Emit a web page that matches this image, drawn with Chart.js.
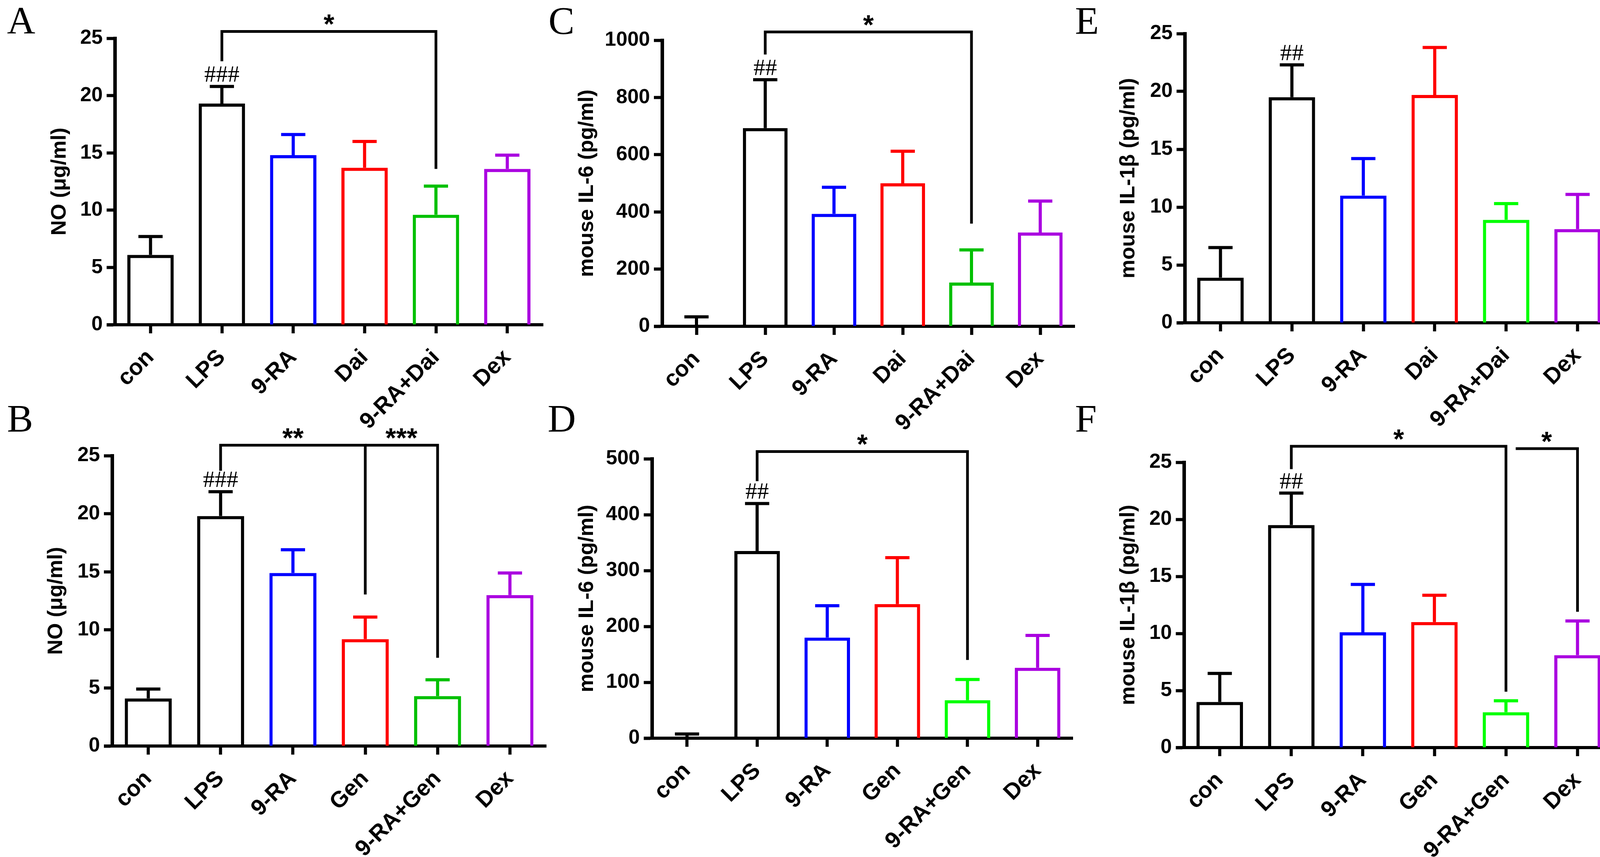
<!DOCTYPE html>
<html>
<head>
<meta charset="utf-8">
<title>NO, IL-6 and IL-1β</title>
<script src="https://cdn.jsdelivr.net/npm/chart.js@4.4.0/dist/chart.umd.min.js"></script>
<style>
  body { margin: 0; background: #fff; }
  #page { position: relative; width: 4150px; height: 2193px; overflow: hidden; background: #fff; }
  #page canvas { position: absolute; }
  .letter { position: absolute; font: 100px/1 'Liberation Serif', 'Times New Roman', serif; color: #000; }
</style>
</head>
<body>
<div id="page">
  <div class="letter" style="left:18px;top:3px">A</div>
  <div class="letter" style="left:18px;top:1021px">B</div>
  <div class="letter" style="left:1404px;top:3px">C</div>
  <div class="letter" style="left:1402px;top:1021px">D</div>
  <div class="letter" style="left:2752px;top:3px">E</div>
  <div class="letter" style="left:2752px;top:1021px">F</div>
</div>
<script>
const groupsDai = ['con', 'LPS', '9-RA', 'Dai', '9-RA+Dai', 'Dex'];
const groupsGen = ['con', 'LPS', '9-RA', 'Gen', '9-RA+Gen', 'Dex'];

// NO (ug/ml)
const noDaiMean = [6.1, 19.3, 14.8, 13.7, 9.6, 13.6];
const noDaiSem = [1.6, 1.5, 1.8, 2.3, 2.5, 1.2];
const noGenMean = [4.1, 19.8, 14.9, 9.2, 4.3, 13.0];
const noGenSem = [0.8, 2.1, 2.0, 1.9, 1.4, 1.9];

// mouse IL-6 (pg/ml)
const il6DaiMean = [0, 693, 393, 500, 153, 328];
const il6DaiSem = [33, 169, 93, 112, 114, 110];
const il6GenMean = [2.5, 335, 180, 240, 68, 126];
const il6GenSem = [5, 85, 57, 83, 37, 58];

// mouse IL-1b (pg/ml)
const il1bDaiMean = [3.9, 19.5, 11.0, 19.7, 8.9, 8.1];
const il1bDaiSem = [2.6, 2.8, 3.2, 4.1, 1.4, 3.0];
const il1bGenMean = [4.0, 19.5, 10.1, 11.0, 3.1, 8.1];
const il1bGenSem = [2.5, 2.8, 4.2, 2.35, 1.0, 3.0];

// significance brackets (group index, values on the y scale)
const bracketsA = [{ from: 1, to: 4, top: 25.6, fromEnd: 23.0, toEnd: 13.6, text: '*' }];
const bracketsB = [
  { from: 1, to: 3, top: 25.9, fromEnd: 23.7, toEnd: 13.05, text: '**' },
  { from: 3, to: 4, top: 25.9, fromEnd: null, toEnd: 7.6, text: '***' }
];
const bracketsC = [{ from: 1, to: 4, top: 1029, fromEnd: 950, toEnd: 359, text: '*' }];
const bracketsD = [{ from: 1, to: 4, top: 513, fromEnd: 460, toEnd: 140, text: '*' }];
const bracketsE = [];
const bracketsF = [
  { from: 1, to: 4, top: 26.4, fromEnd: 24.4, toEnd: 4.9, text: '*' },
  { from: 4, to: 5, top: 26.2, fromEnd: null, toEnd: 11.9, text: '*', shift: 25 }
];

const greenDark = '#00c000';
const greenBright = '#00ff00';
const purple = '#aa00e0';
const SANS = "'Liberation Sans', Arial, Helvetica, sans-serif";
const SERIF = "'Liberation Serif', 'Times New Roman', serif";
const TITLE_SIZE = 54;
const LINE = 8;

const panels = [
  { box: [0, 0, 1400, 1110], axisX: 294, right: 1390, top: 98, zero: 831, titleX: 153,
    labels: groupsDai, mean: noDaiMean, sem: noDaiSem, max: 25, step: 5,
    title: 'NO (μg/ml)', green: greenDark, hash: '###', brackets: bracketsA },
  { box: [0, 1040, 1400, 1153], axisX: 287, right: 1398, top: 1166, zero: 1909, titleX: 144,
    labels: groupsGen, mean: noGenMean, sem: noGenSem, max: 25, step: 5,
    title: 'NO (μg/ml)', green: greenDark, hash: '###', brackets: bracketsB },
  { box: [1400, 0, 1370, 1110], axisX: 1695, right: 2751, top: 103, zero: 835, titleX: 1503,
    labels: groupsDai, mean: il6DaiMean, sem: il6DaiSem, max: 1000, step: 200,
    title: 'mouse IL-6 (pg/ml)', green: greenDark, hash: '##', brackets: bracketsC },
  { box: [1400, 1040, 1370, 1153], axisX: 1669, right: 2746, top: 1174, zero: 1889, titleX: 1503,
    labels: groupsGen, mean: il6GenMean, sem: il6GenSem, max: 500, step: 100,
    title: 'mouse IL-6 (pg/ml)', green: greenBright, hash: '##', brackets: bracketsD },
  { box: [2770, 0, 1380, 1110], axisX: 3033, right: 4130, top: 86, zero: 826, titleX: 2889,
    labels: groupsDai, mean: il1bDaiMean, sem: il1bDaiSem, max: 25, step: 5,
    title: 'mouse IL-1β (pg/ml)', green: greenBright, hash: '##', brackets: bracketsE },
  { box: [2770, 1040, 1380, 1153], axisX: 3031, right: 4130, top: 1183, zero: 1913, titleX: 2889,
    labels: groupsGen, mean: il1bGenMean, sem: il1bGenSem, max: 25, step: 5,
    title: 'mouse IL-1β (pg/ml)', green: greenBright, hash: '##', brackets: bracketsF }
];

// error bars, ## marks and brackets on top of the bars
function marksPlugin(p, colors) {
  return {
    id: 'marks',
    afterDraw(chart) {
      const ctx = chart.ctx;
      const y = chart.scales.y;
      const area = chart.chartArea;
      const bars = chart.getDatasetMeta(0).data;
      ctx.save();
      ctx.lineCap = 'butt';
      ctx.lineJoin = 'miter';

      // x axis runs a little past the y axis, as in Prism
      ctx.strokeStyle = '#000';
      ctx.lineWidth = LINE;
      ctx.beginPath();
      ctx.moveTo(area.left - 21, y.getPixelForValue(0));
      ctx.lineTo(area.left, y.getPixelForValue(0));
      ctx.stroke();

      bars.forEach((bar, i) => {
        const cap = y.getPixelForValue(p.mean[i] + p.sem[i]);
        ctx.strokeStyle = colors[i];
        ctx.beginPath();
        ctx.moveTo(bar.x, bar.y);
        ctx.lineTo(bar.x, cap);
        ctx.moveTo(bar.x - 31, cap);
        ctx.lineTo(bar.x + 31, cap);
        ctx.stroke();
      });

      // ## over LPS
      const lps = bars[1];
      const lpsCap = y.getPixelForValue(p.mean[1] + p.sem[1]);
      ctx.fillStyle = '#000';
      ctx.font = '60px ' + SERIF;
      ctx.textAlign = 'center';
      ctx.textBaseline = 'alphabetic';
      ctx.fillText(p.hash, lps.x, lpsCap - 12);

      ctx.strokeStyle = '#000';
      ctx.lineWidth = LINE - 1;
      ctx.font = 'bold 70px ' + SANS;
      p.brackets.forEach(b => {
        const x1 = bars[b.from].x + (b.shift || 0);
        const x2 = bars[b.to].x;
        const yt = y.getPixelForValue(b.top);
        ctx.beginPath();
        if (b.fromEnd !== null) {
          ctx.moveTo(x1, y.getPixelForValue(b.fromEnd));
          ctx.lineTo(x1, yt);
        } else {
          ctx.moveTo(x1, yt);
        }
        ctx.lineTo(x2, yt);
        ctx.lineTo(x2, y.getPixelForValue(b.toEnd));
        ctx.stroke();
        const m = ctx.measureText(b.text);
        ctx.fillText(b.text, (x1 + x2) / 2, yt - LINE / 2 - 12 - m.actualBoundingBoxDescent);
      });
      ctx.restore();
    }
  };
}

Chart.defaults.font.family = SANS;
Chart.defaults.color = '#000';

const page = document.getElementById('page');

panels.forEach(p => {
  const [bx, by, bw, bh] = p.box;
  const canvas = document.createElement('canvas');
  canvas.width = bw;
  canvas.height = bh;
  canvas.style.left = bx + 'px';
  canvas.style.top = by + 'px';
  canvas.style.width = bw + 'px';
  canvas.style.height = bh + 'px';
  page.appendChild(canvas);

  const colors = ['#000000', '#000000', '#0000ff', '#ff0000', p.green, purple];
  const padLeft = p.titleX - bx - TITLE_SIZE * 1.2 / 2;

  new Chart(canvas.getContext('2d'), {
    type: 'bar',
    data: {
      labels: p.labels,
      datasets: [{
        data: p.mean,
        backgroundColor: 'rgba(255,255,255,0)',
        borderColor: colors,
        borderWidth: LINE,
        borderSkipped: 'start',
        categoryPercentage: 1,
        barPercentage: 0.65
      }]
    },
    options: {
      responsive: false,
      animation: false,
      devicePixelRatio: 1,
      layout: {
        padding: { left: padLeft, right: bx + bw - p.right, top: p.top - by, bottom: 0 }
      },
      plugins: {
        legend: { display: false },
        tooltip: { enabled: false }
      },
      scales: {
        x: {
          grid: { drawOnChartArea: false, offset: false, tickLength: 22, tickWidth: LINE, tickColor: '#000' },
          border: { display: true, color: '#000', width: LINE },
          ticks: {
            autoSkip: false,
            maxRotation: 45,
            minRotation: 45,
            padding: 28,
            color: '#000',
            font: { size: 58, weight: 'bold' }
          },
          afterFit(scale) { scale.height = by + bh - p.zero; }
        },
        y: {
          min: 0,
          max: p.max,
          grid: { drawOnChartArea: false, tickLength: 21, tickWidth: LINE, tickColor: '#000' },
          border: { display: true, color: '#000', width: LINE + 1 },
          ticks: {
            stepSize: p.step,
            padding: 10,
            color: '#000',
            font: { size: 52, weight: 'bold' },
            callback: value => String(value)
          },
          title: {
            display: true,
            text: p.title,
            color: '#000',
            padding: 0,
            font: { size: TITLE_SIZE, weight: 'bold' }
          },
          afterFit(scale) { scale.width = p.axisX - bx - padLeft; }
        }
      }
    },
    plugins: [marksPlugin(p, colors)]
  });
});
</script>
</body>
</html>
